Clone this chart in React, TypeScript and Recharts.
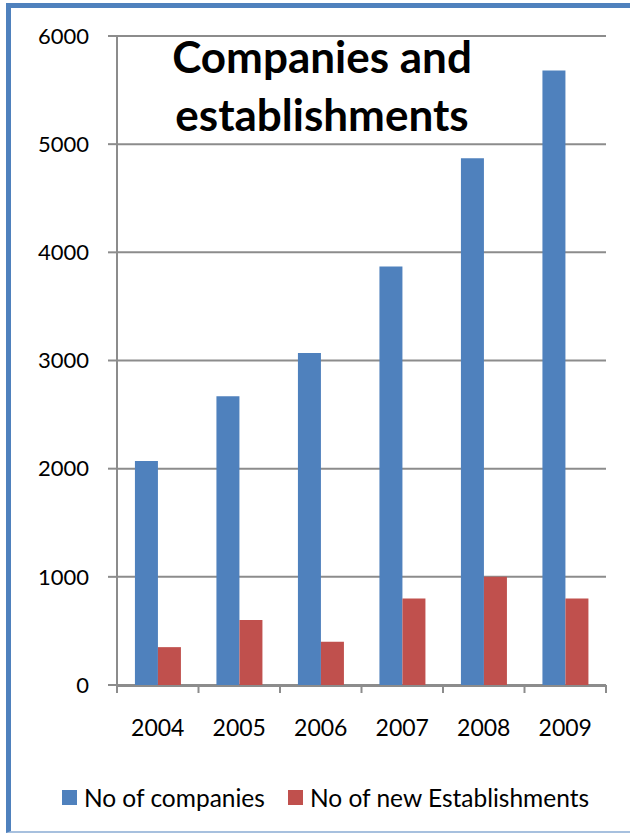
import React from 'react';
import { BarChart, Bar, XAxis, YAxis, CartesianGrid, Legend } from 'recharts';

const years = ['2004', '2005', '2006', '2007', '2008', '2009'];
const companies = [2070, 2670, 3070, 3870, 4870, 5680];
const newEstablishments = [350, 600, 400, 800, 1000, 800];
const yTicks = [0, 1000, 2000, 3000, 4000, 5000, 6000];
const boundaryTicks = [0, 1, 2, 3, 4, 5, 6];

const data = years.map((y, i) => ({
  year: y,
  idx: i + 0.5,
  companies: companies[i],
  est: newEstablishments[i],
}));

const FONT = 'Lato, "Open Sans", sans-serif';
const GRID = '#8c8c8c';

const LegendContent = () => (
  <div
    style={{
      height: 34,
      display: 'flex',
      justifyContent: 'center',
      alignItems: 'center',
      fontFamily: FONT,
      fontSize: 24.5,
      color: '#000',
      paddingLeft: 8,
    }}
  >
    <span style={{ display: 'inline-block', width: 15, height: 15, background: '#4F81BD', marginRight: 7 }} />
    <span style={{ marginRight: 23 }}>No of companies</span>
    <span style={{ display: 'inline-block', width: 15, height: 15, background: '#C0504D', marginRight: 7 }} />
    <span>No of new Establishments</span>
  </div>
);

export default function App() {
  return (
    <div style={{ position: 'absolute', left: 0, top: 0, width: 630, height: 834, overflow: 'hidden', background: '#fff' }}>
      <BarChart
        width={630}
        height={834}
        data={data}
        margin={{ top: 36, right: 24, bottom: 20, left: 37 }}
        barCategoryGap="22%"
        barGap={0}
      >
        <CartesianGrid xAxisId="cat" vertical={false} stroke={GRID} strokeWidth={2} />
        <XAxis
          xAxisId="bounds"
          type="number"
          dataKey="idx"
          domain={[0, 6]}
          ticks={boundaryTicks}
          interval={0}
          allowDataOverflow
          height={1}
          axisLine={false}
          tickLine={{ stroke: GRID, strokeWidth: 2 }}
          tickSize={8}
          tick={{ fontSize: 1, fill: 'transparent' }}
          tickFormatter={() => ' '}
        />
        <XAxis
          xAxisId="cat"
          dataKey="year"
          height={94}
          axisLine={{ stroke: GRID, strokeWidth: 2 }}
          tickLine={false}
          tickSize={0}
          tickMargin={34}
          tick={{ fill: '#000', fontSize: 23, fontFamily: FONT }}
        />
        <YAxis
          width={80}
          domain={[0, 6000]}
          ticks={yTicks}
          interval={0}
          axisLine={{ stroke: GRID, strokeWidth: 2 }}
          tickLine={{ stroke: GRID, strokeWidth: 2 }}
          tickSize={9}
          tickMargin={19}
          tick={{ fill: '#000', fontSize: 22, fontFamily: FONT }}
        />
        <Legend verticalAlign="bottom" content={<LegendContent />} />
        <Bar xAxisId="cat" dataKey="companies" name="No of companies" fill="#4F81BD" isAnimationActive={false} />
        <Bar xAxisId="cat" dataKey="est" name="No of new Establishments" fill="#C0504D" isAnimationActive={false} />
      </BarChart>
      <div
        style={{
          position: 'absolute',
          left: 122,
          width: 400,
          top: 27,
          textAlign: 'center',
          fontFamily: FONT,
          fontWeight: 'bold',
          fontSize: 44,
          lineHeight: '58px',
          color: '#000',
        }}
      >
        Companies and
        <br />
        establishments
      </div>
      <div
        style={{
          position: 'absolute',
          left: 6,
          top: 3,
          width: 700,
          height: 823,
          borderTop: '5px solid #4F81BD',
          borderLeft: '5px solid #4F81BD',
          borderBottom: '2px solid #A7C0DE',
          pointerEvents: 'none',
        }}
      />
    </div>
  );
}
